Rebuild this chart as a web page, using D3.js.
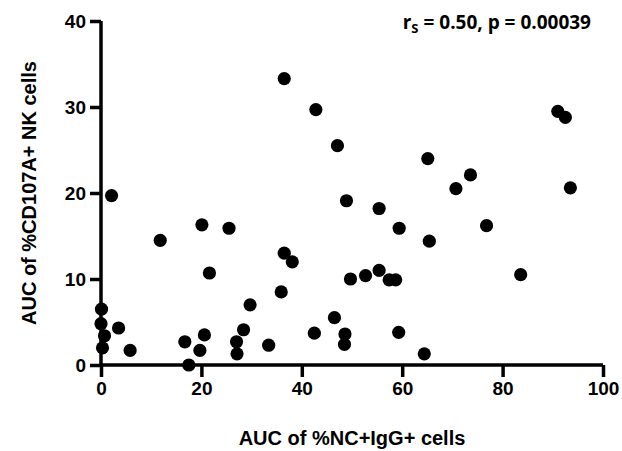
<!DOCTYPE html>
<html lang="en">
<head>
    <meta charset="UTF-8">
    <title>AUC NC+IgG+ vs CD107A+ NK</title>
    <script src="https://d3js.org/d3.v7.min.js"></script>
    <style>
        body {
            margin: 0;
            padding: 0;
            background: #fff;
        }
        svg {
            display: block;
        }
        .axis path,
        .axis line {
            stroke: #000;
            stroke-width: 3.5px;
        }
        .axis text {
            font-family: "Liberation Sans", Arial, sans-serif;
            font-weight: bold;
            font-size: 19px;
            fill: #000;
        }
        .label {
            font-family: "Liberation Sans", Arial, sans-serif;
            font-weight: bold;
            font-size: 20px;
            text-anchor: middle;
        }
        .stat {
            font-family: "Open Sans", sans-serif;
            font-weight: bold;
            font-size: 19px;
        }
    </style>
</head>
<body>
    <svg width="622" height="451"></svg>
    <script>
        // values
        const xValues = [0.1, 0, 0.7, 0.3, 2.1, 3.5, 5.8, 11.8, 16.7, 17.5, 19.7, 20.1, 20.6, 21.6, 25.5,
            27.0, 27.1, 28.4, 29.7, 33.4, 35.9, 36.5, 36.5, 38.1, 42.5, 42.8, 46.5, 47.1, 48.5, 48.6,
            48.9, 49.7, 52.7, 55.4, 55.4, 57.4, 58.7, 59.3, 59.4, 64.4, 65.1, 65.4, 70.7, 73.6, 76.8,
            83.6, 91.0, 92.5, 93.5];
        const yValues = [6.5, 4.8, 3.4, 2.0, 19.7, 4.3, 1.7, 14.5, 2.7, 0, 1.7, 16.3, 3.5, 10.7, 15.9,
            2.7, 1.3, 4.1, 7.0, 2.3, 8.5, 13.0, 33.3, 12.0, 3.7, 29.7, 5.5, 25.5, 2.4, 3.6,
            19.1, 10.0, 10.4, 18.2, 11.0, 9.9, 9.9, 3.8, 15.9, 1.3, 24.0, 14.4, 20.5, 22.1, 16.2,
            10.5, 29.5, 28.8, 20.6];
        const xTicks = [0, 20, 40, 60, 80, 100];
        const yTicks = [0, 10, 20, 30, 40];

        const points = xValues.map((x, i) => ({ x: x, y: yValues[i] }));

        const svg = d3.select("svg");

        const x = d3.scaleLinear().domain([0, 100]).range([101, 603]);
        const y = d3.scaleLinear().domain([0, 40]).range([365, 21]);

        svg.append("g")
            .attr("class", "axis")
            .attr("transform", "translate(0,365)")
            .call(d3.axisBottom(x).tickValues(xTicks).tickSize(12).tickSizeOuter(0).tickPadding(5))
            .call(g => g.select(".domain").attr("d", `M${x(0)},0H${x(100)}`));

        svg.append("g")
            .attr("class", "axis")
            .attr("transform", "translate(101,0)")
            .call(d3.axisLeft(y).tickValues(yTicks).tickSize(11).tickSizeOuter(0).tickPadding(4))
            .call(g => g.select(".domain").attr("d", `M0,${y(0)}V${y(40)}`));

        svg.selectAll(".dot")
            .data(points)
            .enter()
            .append("circle")
            .attr("class", "dot")
            .attr("cx", d => x(d.x))
            .attr("cy", d => y(d.y))
            .attr("r", 6.6)
            .attr("fill", "#000");

        svg.append("text")
            .attr("class", "label")
            .attr("x", (x(0) + x(100)) / 2)
            .attr("y", 445)
            .text("AUC of %NC+IgG+ cells");

        svg.append("text")
            .attr("class", "label")
            .attr("transform", `translate(36,${(y(0) + y(40)) / 2}) rotate(-90)`)
            .text("AUC of %CD107A+ NK cells");

        const stat = svg.append("text")
            .attr("class", "stat")
            .attr("x", 591)
            .attr("y", 29)
            .attr("text-anchor", "end");
        stat.append("tspan").text("r");
        stat.append("tspan").attr("font-size", "13px").attr("dy", 4).text("S");
        stat.append("tspan").attr("dy", -4).text(" = 0.50, p = 0.00039");
    </script>
</body>
</html>
